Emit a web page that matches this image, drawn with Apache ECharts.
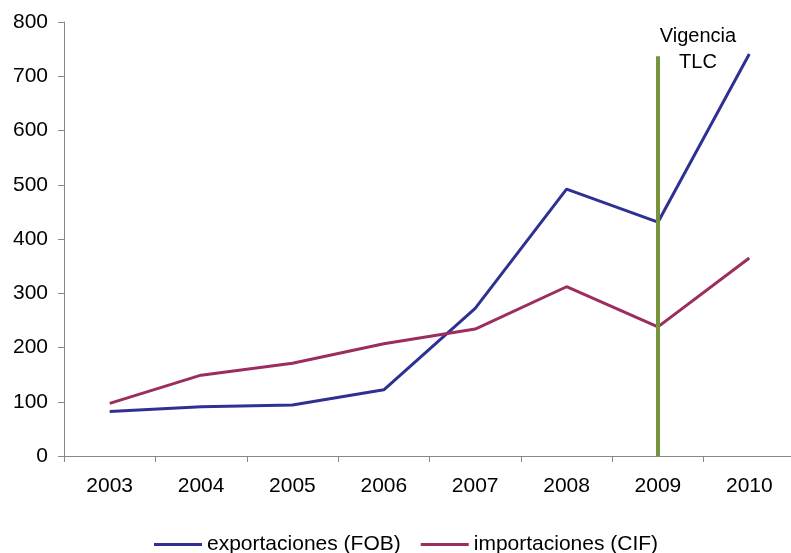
<!DOCTYPE html>
<html>
<head>
<meta charset="utf-8">
<script src="https://cdn.jsdelivr.net/npm/echarts@6/dist/echarts.min.js"></script>
<style>html,body{margin:0;padding:0;background:#fff;overflow:hidden;width:791px;height:553px;}#c{width:795px;height:553px;}</style>
</head>
<body>
<div id="c"></div>
<script>
var categories = ['2003','2004','2005','2006','2007','2008','2009','2010'];
var exportaciones = [82, 91, 94, 122, 272, 492, 431, 741];
var importaciones = [97, 149, 171, 207, 234, 312, 238, 365];
var tlcYear = '2009';
var tlcTop = 737;
var tlcLabel = 'Vigencia\nTLC';

var chart = echarts.init(document.getElementById('c'));
chart.setOption({
  animation: false,
  textStyle: { fontFamily: 'Liberation Sans, Arial, sans-serif' },
  grid: { left: 64, right: 0, top: 22, bottom: 97, containLabel: false },
  legend: {
    top: 529,
    left: 149,
    itemWidth: 48,
    itemHeight: 3,
    itemGap: 20,
    icon: 'rect',
    textStyle: { fontSize: 21, color: '#000', fontFamily: 'Liberation Sans, Arial, sans-serif' },
    data: ['exportaciones (FOB)', 'importaciones (CIF)']
  },
  xAxis: {
    type: 'category',
    data: categories,
    boundaryGap: true,
    axisLine: { lineStyle: { color: '#888', width: 1 } },
    axisTick: { show: true, length: 6, lineStyle: { color: '#888' } },
    axisLabel: { fontSize: 21, color: '#000', margin: 20 },
    splitLine: { show: false }
  },
  yAxis: {
    type: 'value',
    min: 0, max: 800, interval: 100,
    axisLine: { show: true, lineStyle: { color: '#888', width: 1 } },
    axisTick: { show: true, length: 6, lineStyle: { color: '#888' } },
    axisLabel: { fontSize: 21, color: '#000', margin: 16 },
    splitLine: { show: false }
  },
  series: [
    {
      name: 'exportaciones (FOB)',
      type: 'line',
      data: exportaciones,
      showSymbol: false,
      symbol: 'none',
      color: '#2E3192',
      lineStyle: { width: 3, color: '#2E3192' },
      z: 3
    },
    {
      name: 'importaciones (CIF)',
      type: 'line',
      data: importaciones,
      showSymbol: false,
      symbol: 'none',
      color: '#9B2D5F',
      lineStyle: { width: 3, color: '#9B2D5F' },
      z: 3,
      markLine: {
        silent: true,
        symbol: ['none', 'none'],
        lineStyle: { color: '#77933C', width: 4, type: 'solid' },
        label: {
          show: true,
          position: 'end',
          formatter: tlcLabel,
          fontSize: 20,
          color: '#000',
          lineHeight: 26,
          align: 'center',
          offset: [40, 24],
          fontFamily: 'Liberation Sans, Arial, sans-serif'
        },
        data: [[{ coord: [tlcYear, 0] }, { coord: [tlcYear, tlcTop] }]],
        z: 5
      }
    }
  ]
});
</script>
</body>
</html>
